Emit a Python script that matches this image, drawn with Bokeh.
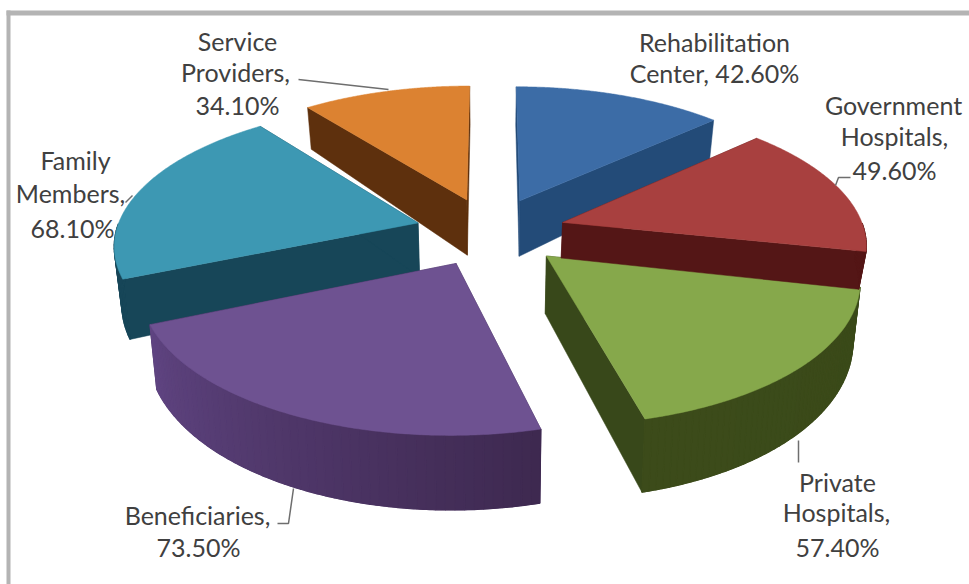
import numpy as np
from bokeh.core.properties import value
from bokeh.embed import file_html
from bokeh.models import Range1d
from bokeh.plotting import figure
from bokeh.resources import INLINE

# Survey shares, clockwise from twelve o'clock
categories = ["Rehabilitation Center", "Government Hospitals", "Private Hospitals",
              "Beneficiaries", "Family Members", "Service Providers"]
shares = [42.6, 49.6, 57.4, 73.5, 68.1, 34.1]

# Label text, one inner list per drawn line; "{}" takes the formatted share
label_lines = [
    ["Rehabilitation", "Center, {}"],
    ["Government", "Hospitals,", "{}"],
    ["Private", "Hospitals,", "{}"],
    ["Beneficiaries,", "{}"],
    ["Family", "Members,", "{}"],
    ["Service", "Providers,", "{}"],
]

# Slice colours: top face, cut face, outer wall at both ends of its sweep
top_colors = ["#3c6ca6", "#a8403f", "#86a84b", "#6e5291", "#3d98b3", "#dc8231"]
cut_colors = ["#234b78", "#541616", "#38481a", "#3f2a55", "#174658", "#5e300d"]
wall_start = ["#234b78", "#541616", "#3a4a19", "#3e2950", "#174658", "#5e300d"]
wall_end = ["#234b78", "#541616", "#3c4b1a", "#5f4481", "#174658", "#5e300d"]

# Layout of the tilted pie
CX, CY = 490, 231
RX, RY = 302, 138
PERSPECTIVE = 0.14
EXPLODE = 0.25
THICKNESS = [1.08, 0.66, 1.0, 1.0, 1.0, 1.08]
DRAW_ORDER = [0, 5, 4, 3, 2, 1]

# Label line centres in page pixels, and leader line paths
label_pos = [
    [(714, 41), (714, 72)],
    [(893, 104), (894, 135), (894, 169)],
    [(837, 481), (836, 511), (837, 546)],
    [(197, 514), (198, 546)],
    [(75, 159), (70, 192), (72, 227)],
    [(237, 40), (235, 71), (237, 104)],
]
leaders = [
    ([298, 388], [79, 89]),
    ([835, 838, 850], [185, 177, 177]),
    ([798, 798], [440, 462]),
    ([293, 288, 277], [488, 523, 523]),
    ([125, 132], [202, 195]),
]


def project(u, vb):
    s = 1.0 / (1.0 + PERSPECTIVE * vb)
    return CX + RX * u * s, CY - RY * vb * s


def lower(x, y, vb, mult):
    depth = (55 - 16 * vb) * mult
    return x + (CX - x) * 0.02, y + depth


p = figure(width=969, height=584, x_range=Range1d(0, 969), y_range=Range1d(584, 0),
           x_axis_location=None, y_axis_location=None, toolbar_location=None,
           output_backend="svg", min_border=0, background_fill_color="white",
           border_fill_color="white", outline_line_color=None)
p.grid.visible = False

# Frame edges along the top and left
p.quad(left=6, right=969, top=10, bottom=15, fill_color="#b4b4b4", line_color=None)
p.quad(left=6, right=10, top=10, bottom=584, fill_color="#b4b4b4", line_color=None)

fractions = np.array(shares) / sum(shares)
ends = np.cumsum(fractions) * 2 * np.pi
starts = ends - fractions * 2 * np.pi


def blend(a, b, t):
    ca = [int(a[i:i + 2], 16) for i in (1, 3, 5)]
    cb = [int(b[i:i + 2], 16) for i in (1, 3, 5)]
    return "#%02x%02x%02x" % tuple(round(x + (y - x) * t) for x, y in zip(ca, cb))


for i in DRAW_ORDER:
    a0, a1 = starts[i], ends[i]
    mid = (a0 + a1) / 2
    ou, ov = EXPLODE * np.sin(mid), EXPLODE * np.cos(mid)
    theta = np.linspace(a0, a1, 160)
    us = ou + np.sin(theta)
    vs = ov + np.cos(theta)
    xs, ys = project(us, vs)
    ax, ay = project(ou, ov)
    bx, by = lower(xs, ys, vs, THICKNESS[i])
    abx, aby = lower(ax, ay, ov, THICKNESS[i])

    # Flat faces left by the wedge cut
    for k in (0, -1):
        p.patch([ax, xs[k], bx[k], abx], [ay, ys[k], by[k], aby],
                fill_color=cut_colors[i], line_color=cut_colors[i], line_width=0.5)

    # Curved outer wall: a solid base, then wide strips carrying the shade change
    front = np.where(np.cos(theta) < 0)[0]
    if len(front) > 1:
        base = blend(wall_start[i], wall_end[i], 0.5)
        p.patch(np.r_[xs[front], bx[front][::-1]], np.r_[ys[front], by[front][::-1]],
                fill_color=base, line_color=base, line_width=0.5)
        edges = front[::3]
        if edges[-1] != front[-1]:
            edges = np.r_[edges, front[-1]]
        for n in range(len(edges) - 1):
            seg = np.arange(edges[n], edges[n + 1] + 1)
            c = blend(wall_start[i], wall_end[i], n / max(1, len(edges) - 2))
            p.patch(np.r_[xs[seg], bx[seg][::-1]], np.r_[ys[seg], by[seg][::-1]],
                    fill_color=c, line_color=c, line_width=1.2)

    # Top face
    p.patch(np.r_[ax, xs], np.r_[ay, ys], fill_color=top_colors[i],
            line_color=top_colors[i], line_width=0.5)

for lx, ly in leaders:
    p.line(lx, ly, line_color="#6e6e6e", line_width=1.5)

for i, lines in enumerate(label_lines):
    for text, (tx, ty) in zip(lines, label_pos[i]):
        p.text([tx], [ty], text=[text.format(f"{shares[i]:.2f}%")],
               text_font=value("Lato"), text_font_size="25px", text_color="#404040",
               text_align="center", text_baseline="middle")

open("out.html", "w").write(file_html(p, INLINE))
